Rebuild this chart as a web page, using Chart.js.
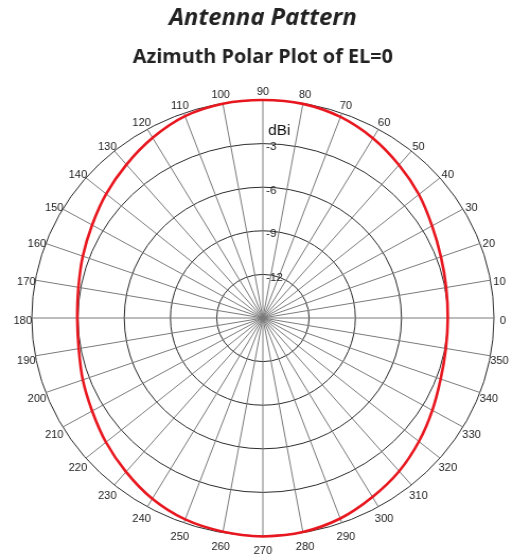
<!DOCTYPE html>
<html>
<head>
<meta charset="utf-8">
<script src="https://cdn.jsdelivr.net/npm/chart.js@4/dist/chart.umd.min.js"></script>
<style>
  html, body { margin: 0; padding: 0; background: #fff; }
  #wrap { width: 530px; height: 554px; overflow: hidden; }
  #c { width: 500px; height: 554px; transform: scaleX(1.06); transform-origin: 0 0; }
</style>
</head>
<body>
<div id="wrap"><canvas id="c" width="500" height="554"></canvas></div>
<script>
// Azimuth angles (degrees, counter-clockwise from the right) and measured gain
const azimuthDeg = [0, 10, 20, 30, 40, 50, 60, 70, 80, 90,
                    100, 110, 120, 130, 140, 150, 160, 170, 180, 190,
                    200, 210, 220, 230, 240, 250, 260, 270, 280, 290,
                    300, 310, 320, 330, 340, 350];
const gainDbi = [-3.00, -2.92, -2.70, -2.32, -1.78, -1.26, -0.72, -0.28, -0.04, 0.00,
                 -0.03, -0.22, -0.68, -1.22, -1.72, -2.20, -2.56, -2.84, -2.95, -2.86,
                 -2.56, -2.20, -1.70, -1.18, -0.64, -0.25, -0.07, 0.03, -0.05, -0.32,
                 -0.78, -1.24, -1.78, -2.30, -2.72, -2.94];
// Radial scale range and ring labels
const rMin = -15;
const rMax = 0;
const rStep = 3;
const ringLabels = ['-12', '-9', '-6', '-3'];
const unitLabel = 'dBi';

// Radar spokes run clockwise from the top, so azimuth 90 comes first
const order = azimuthDeg.map((_, i) => {
  const az = ((90 - 10 * i) % 360 + 360) % 360;
  return azimuthDeg.indexOf(az);
});
const spokeLabels = order.map(k => String(azimuthDeg[k]));
const spokeValues = order.map(k => gainDbi[k]);

const FONT = '"Liberation Sans", Arial, sans-serif';

// Angle labels centred on a ring just outside the plot, ring labels beside
// the vertical axis, and the unit caption above them
const polarText = {
  id: 'polarText',
  afterDraw(chart) {
    const s = chart.scales.r;
    const ctx = chart.ctx;
    const n = spokeLabels.length;
    ctx.save();
    ctx.textAlign = 'center';
    ctx.textBaseline = 'middle';
    ctx.fillStyle = '#222';
    ctx.font = '10.5px ' + FONT;
    spokeLabels.forEach((lab, i) => {
      const a = i * 2 * Math.PI / n;
      const sn = Math.sin(a), cs = Math.cos(a);
      const gap = 8.5 * sn * sn + 11.5 * cs * cs;
      const p = s.getPointPosition(i, s.drawingArea + gap);
      ctx.fillText(lab, p.x, p.y + 3.5);
    });

    ctx.textAlign = 'left';
    ctx.font = '11px ' + FONT;
    s.ticks.forEach(t => {
      const idx = ringLabels.indexOf(String(t.value));
      if (idx < 0) return;
      const d = s.getDistanceFromCenterForValue(t.value);
      ctx.fillText(ringLabels[idx], s.xCenter + 3, s.yCenter - d + 3.5);
    });
    ctx.font = '14.5px ' + FONT;
    ctx.fillStyle = '#111';
    const du = s.getDistanceFromCenterForValue(-2.1);
    ctx.fillText(unitLabel, s.xCenter + 5, s.yCenter - du);
    ctx.restore();
  }
};

new Chart(document.getElementById('c'), {
  type: 'radar',
  data: {
    labels: spokeLabels,
    datasets: [{
      data: spokeValues,
      borderColor: '#e8171f',
      borderWidth: 2.6,
      pointRadius: 0,
      fill: false,
      tension: 0.33
    }]
  },
  options: {
    responsive: false,
    devicePixelRatio: 1,
    animation: false,
    events: [],
    layout: { padding: { top: 0, left: 30, right: 34, bottom: 18 } },
    plugins: {
      legend: { display: false },
      tooltip: { enabled: false },
      title: {
        display: true,
        text: 'Antenna Pattern',
        color: '#222',
        font: { family: '"Open Sans", "Noto Sans", sans-serif', size: 22.5, weight: 'bold', style: 'italic' },
        padding: { top: 5.5, bottom: 6 }
      },
      subtitle: {
        display: true,
        text: 'Azimuth Polar Plot of EL=0',
        color: '#222',
        font: { family: '"Open Sans", "Noto Sans", sans-serif', size: 18.7, weight: 'bold' },
        padding: { top: 7.8, bottom: 31.26 }
      }
    },
    scales: {
      r: {
        min: rMin,
        max: rMax,
        startAngle: 0,
        ticks: { stepSize: rStep, display: false, showLabelBackdrop: false },
        grid: { circular: true, color: '#2a2a2a', lineWidth: 1 },
        angleLines: { color: '#7a7a7a', lineWidth: 1 },
        pointLabels: { display: false }
      }
    }
  },
  plugins: [polarText]
});
</script>
</body>
</html>
